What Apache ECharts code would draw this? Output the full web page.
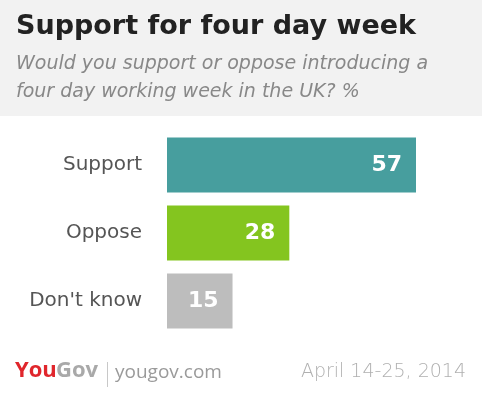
<!DOCTYPE html>
<html>
<head>
<meta charset="utf-8">
<script src="https://cdn.jsdelivr.net/npm/echarts@6/dist/echarts.min.js"></script>
<style>
html,body{margin:0;padding:0;background:#fff;}
#chart{width:482px;height:398px;}
</style>
</head>
<body>
<div id="chart"></div>
<script>
var categories = ['Support', 'Oppose', "Don't know"];
var values = [57, 28, 15];
var barColors = ['#479e9e', '#84c51f', '#bdbdbd'];
var titleText = 'Support for four day week';
var subtitleText = 'Would you support or oppose introducing a\nfour day working week in the UK? %';
var dateText = 'April 14-25, 2014';

var chart = echarts.init(document.getElementById('chart'));
chart.setOption({
  animation: false,
  backgroundColor: '#ffffff',
  graphic: [
    { type: 'rect', left: 0, top: 0, z: -10, shape: { width: 482, height: 116 }, style: { fill: '#f2f2f2' } },
    { type: 'text', left: 15, top: 360, style: { text: 'You', fill: '#e0262c', font: 'bold 22px "Open Sans"' } },
    { type: 'text', left: 56, top: 360, style: { text: 'Gov', fill: '#a9a9a9', font: 'bold 22px "Open Sans"' } },
    { type: 'rect', left: 107, top: 362, shape: { width: 1, height: 25 }, style: { fill: '#c8c8c8' } },
    { type: 'text', left: 115, top: 363, style: { text: 'yougov.com', fill: '#9a9a9a', font: '19px "Open Sans"' } },
    { type: 'text', right: 16, top: 363, style: { text: dateText, fill: '#b0b0b0', font: '200 19px "DejaVu Sans"' } }
  ],
  title: {
    text: titleText,
    subtext: subtitleText,
    left: 11,
    top: 8,
    itemGap: 10,
    textStyle: { fontFamily: 'DejaVu Sans', fontWeight: 'bold', fontSize: 27, color: '#222222' },
    subtextStyle: { fontFamily: 'DejaVu Sans', fontStyle: 'italic', fontSize: 19, color: '#888888', lineHeight: 28 }
  },
  grid: { left: 167, top: 131, width: 249, height: 204, containLabel: false },
  xAxis: {
    type: 'value', min: 0, max: 57, show: false
  },
  yAxis: {
    type: 'category', inverse: true, data: categories,
    axisLine: { show: false }, axisTick: { show: false },
    axisLabel: { margin: 25, fontFamily: 'DejaVu Sans', fontSize: 20, color: '#555555' }
  },
  series: [{
    type: 'bar',
    data: values.map(function (v, i) { return { value: v, itemStyle: { color: barColors[i] } }; }),
    barWidth: 55,
    label: {
      show: true, position: 'insideRight', distance: 14,
      fontFamily: 'DejaVu Sans', fontWeight: 'bold', fontSize: 22, color: '#ffffff'
    }
  }]
});
</script>
</body>
</html>
